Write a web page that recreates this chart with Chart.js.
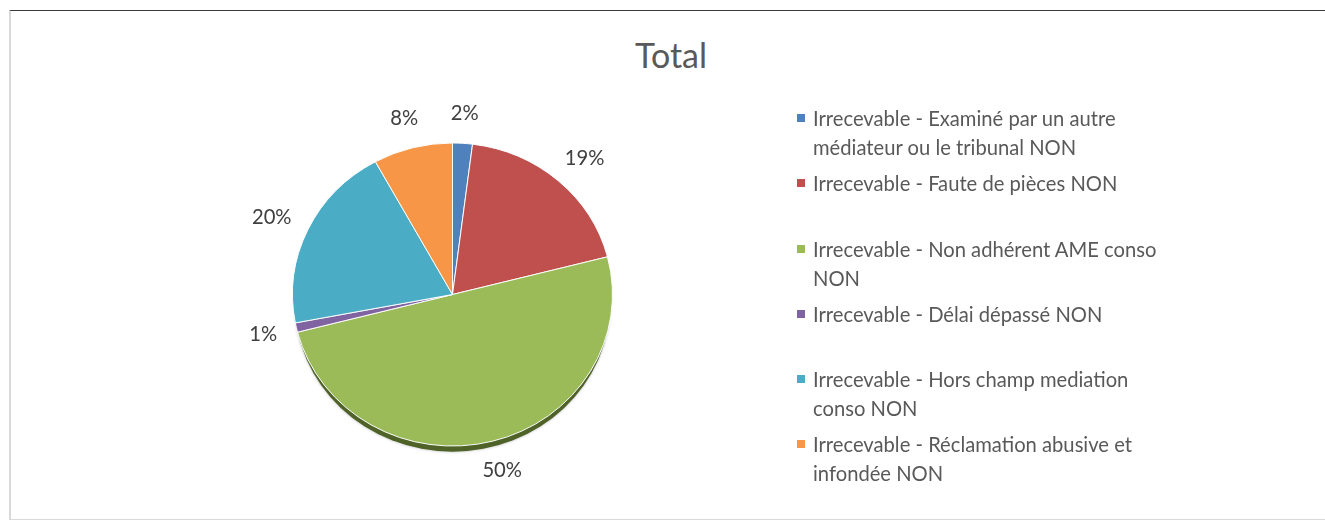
<!DOCTYPE html>
<html>
<head>
<meta charset="utf-8">
<script src="https://cdn.jsdelivr.net/npm/chart.js@4"></script>
<style>
  html, body { margin: 0; padding: 0; background: #fff; }
  #wrap { position: relative; width: 1325px; height: 520px; overflow: hidden; font-family: Lato, sans-serif; color: #595959; }
  #frame { position: absolute; left: 9px; top: 10px; right: -5px; height: 508px; border-top: 1px solid #3a3a3a; border-left: 2px solid #d9d9d9; border-bottom: 2px solid #d9d9d9; }
  #title { position: absolute; left: 0; width: 1342px; top: 35px; text-align: center; font-size: 34px; line-height: 40px; }
  #chart { position: absolute; left: 0; top: 0; }
  #legend { position: absolute; left: 797px; top: 104px; }
  .item { position: relative; height: 65.3px; font-size: 20.2px; line-height: 29px; padding-left: 16px; white-space: nowrap; }
  .box { position: absolute; left: 0; top: 10px; width: 8px; height: 8px; }
</style>
</head>
<body>
<div id="wrap">
  <div id="frame"></div>
  <div id="title">Total</div>
  <canvas id="chart" width="1325" height="520"></canvas>
  <div id="legend"></div>
</div>
<script>
// data
const categories = [
  ['Irrecevable - Examiné par un autre', 'médiateur ou le tribunal NON'],
  ['Irrecevable - Faute de pièces NON'],
  ['Irrecevable - Non adhérent AME conso', 'NON'],
  ['Irrecevable - Délai dépassé NON'],
  ['Irrecevable - Hors champ mediation', 'conso NON'],
  ['Irrecevable - Réclamation abusive et', 'infondée NON']
];
const shares = [2, 19, 50, 1, 20, 8];
const pctLabels = ['2%', '19%', '50%', '1%', '20%', '8%'];
const colors = ['#4F81BD', '#C0504D', '#9BBB59', '#8064A2', '#4BACC6', '#F79646'];

const squash = 0.947; // slight 3D tilt of the pie

// draw the pie a bit flattened with a shadow under it
const tiltPlugin = {
  id: 'tilt',
  beforeDatasetsDraw(chart) {
    const ctx = chart.ctx;
    const arc = chart.getDatasetMeta(0).data[0];
    const cx = arc.x, cy = arc.y, r = arc.outerRadius;
    ctx.save();
    ctx.translate(cx, cy);
    ctx.scale(1, squash);
    ctx.translate(-cx, -cy);
    // shadow
    ctx.save();
    ctx.beginPath();
    ctx.arc(cx, cy + 8, r - 2, 0, Math.PI * 2);
    ctx.fillStyle = '#4f6228';
    ctx.shadowColor = 'rgba(0,0,0,0.3)';
    ctx.shadowBlur = 3;
    ctx.fill();
    ctx.restore();
  },
  afterDatasetsDraw(chart) {
    chart.ctx.restore();
  }
};

// percent labels outside the pie
const labelPlugin = {
  id: 'pctLabels',
  afterDraw(chart) {
    const ctx = chart.ctx;
    const meta = chart.getDatasetMeta(0);
    ctx.save();
    ctx.font = '20.2px Lato, sans-serif';
    ctx.fillStyle = '#404040';
    ctx.textAlign = 'center';
    ctx.textBaseline = 'middle';
    meta.data.forEach((arc, i) => {
      const a = (arc.startAngle + arc.endAngle) / 2;
      const gap = 20;
      const px = arc.x + Math.cos(a) * (arc.outerRadius + gap);
      const py = arc.y + Math.sin(a) * (arc.outerRadius * squash + gap);
      const w = ctx.measureText(pctLabels[i]).width;
      const h = 20;
      ctx.fillText(pctLabels[i], px + Math.cos(a) * w / 2, py + Math.sin(a) * h / 2);
    });
    ctx.restore();
  }
};

const chart = new Chart(document.getElementById('chart'), {
  type: 'pie',
  data: {
    labels: categories,
    datasets: [{
      data: shares,
      backgroundColor: colors,
      borderColor: '#ffffff',
      borderWidth: 1
    }]
  },
  options: {
    responsive: false,
    animation: false,
    layout: { padding: { left: 292, right: 712, top: 134, bottom: 65 } },
    plugins: {
      legend: { display: false },
      tooltip: { enabled: false },
      title: { display: false }
    }
  },
  plugins: [tiltPlugin, labelPlugin]
});

// legend built from the chart data
const legend = document.getElementById('legend');
chart.data.labels.forEach((lines, i) => {
  const item = document.createElement('div');
  item.className = 'item';
  const box = document.createElement('span');
  box.className = 'box';
  box.style.background = chart.data.datasets[0].backgroundColor[i];
  item.appendChild(box);
  lines.forEach(line => {
    const d = document.createElement('div');
    d.textContent = line;
    item.appendChild(d);
  });
  legend.appendChild(item);
});
</script>
</body>
</html>
